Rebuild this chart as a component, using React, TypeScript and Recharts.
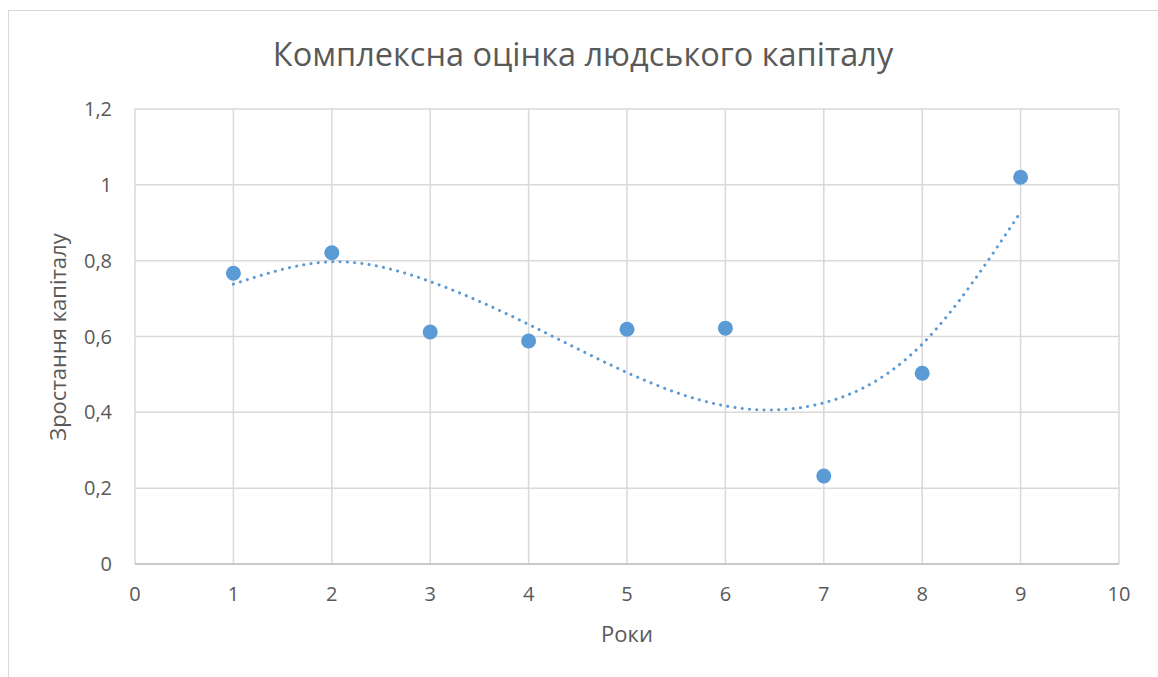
import { ScatterChart, Scatter, XAxis, YAxis, CartesianGrid } from 'recharts'

const years = [1, 2, 3, 4, 5, 6, 7, 8, 9]
const capitalGrowth = [0.767, 0.821, 0.612, 0.588, 0.619, 0.622, 0.232, 0.503, 1.02]
// polynomial trendline at each year
const trendValues = [0.738, 0.797, 0.745, 0.632, 0.505, 0.417, 0.425, 0.58, 0.928]
const xTicks = [0, 1, 2, 3, 4, 5, 6, 7, 8, 9, 10]
const yTicks = [0, 0.2, 0.4, 0.6, 0.8, 1, 1.2]

const TITLE = 'Комплексна оцінка людського капіталу'
const X_LABEL = 'Роки'
const Y_LABEL = 'Зростання капіталу'

const FONT = '"Open Sans", sans-serif'
const TEXT = '#595959'
const BLUE = '#5b9bd5'

const points = years.map((x, i) => ({ x, y: capitalGrowth[i] }))
const trend = years.map((x, i) => ({ x, y: trendValues[i] }))

const fmt = (v: number) => String(v).replace('.', ',')

export default function App() {
  return (
    <div style={{ position: 'absolute', left: 0, top: 0, width: 1158, height: 677, background: '#fff', overflow: 'hidden' }}>
      <div style={{ position: 'absolute', left: 8, top: 10, width: 1200, height: 700, border: '1px solid #d9d9d9' }} />
      <div style={{ position: 'absolute', left: 0, top: 0 }}>
        <ScatterChart width={1158} height={677} margin={{ top: 109, right: 39, bottom: 73, left: 75 }}>
          <CartesianGrid stroke="#d9d9d9" strokeWidth={1.5} />
          <XAxis
            type="number"
            dataKey="x"
            domain={[0, 10]}
            ticks={xTicks}
            interval={0}
            height={40}
            tickLine={false}
            tickSize={0}
            tickMargin={23}
            axisLine={{ stroke: '#bfbfbf', strokeWidth: 1.5 }}
            tick={{ fill: TEXT, fontSize: 20, fontFamily: FONT }}
          />
          <YAxis
            type="number"
            dataKey="y"
            domain={[0, 1.2]}
            ticks={yTicks}
            interval={0}
            width={60}
            tickLine={false}
            tickSize={0}
            tickMargin={23}
            axisLine={false}
            tickFormatter={fmt}
            tick={{ fill: TEXT, fontSize: 20, fontFamily: FONT }}
          />
          <Scatter
            data={trend}
            line={{ stroke: BLUE, strokeWidth: 3, strokeDasharray: '0.1 7.2', strokeLinecap: 'round' }}
            lineJointType="natural"
            shape={() => <g />}
            isAnimationActive={false}
          />
          <Scatter
            data={points}
            fill={BLUE}
            shape={(p: any) => <circle cx={p.cx} cy={p.cy} r={7.5} fill={BLUE} />}
            isAnimationActive={false}
          />
        </ScatterChart>
      </div>
      <svg width={1158} height={677} style={{ position: 'absolute', left: 0, top: 0, pointerEvents: 'none' }}>
        <text x={583} y={66} textAnchor="middle" fontSize={32.5} fontFamily={FONT} fill={TEXT}>{TITLE}</text>
        <text x={627} y={642} textAnchor="middle" fontSize={22} fontFamily={FONT} fill={TEXT}>{X_LABEL}</text>
        <text x={66} y={337} textAnchor="middle" fontSize={22} fontFamily={FONT} fill={TEXT} transform="rotate(-90 66 337)">{Y_LABEL}</text>
      </svg>
    </div>
  )
}
